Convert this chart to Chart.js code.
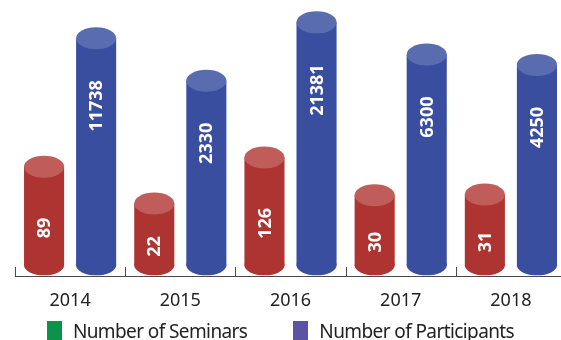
<!DOCTYPE html>
<html>
<head>
<meta charset="utf-8">
<script src="https://cdn.jsdelivr.net/npm/chart.js@4.4.1/dist/chart.umd.min.js"></script>
<style>
  html, body { margin: 0; padding: 0; background: #fff; }
  #wrap { position: relative; width: 561px; height: 340px; overflow: hidden; }
  #chart { position: absolute; left: 0; top: 0; }
  #legend {
    position: absolute; left: 0; top: 321px; width: 561px;
    display: flex; justify-content: center; gap: 46px;
    font-family: 'Noto Sans', sans-serif;
    font-size: 19px; letter-spacing: -0.6px; color: #222;
  }
  #legend .item { display: flex; align-items: flex-start; }
  #legend .box { width: 15px; height: 20px; margin-right: 11px; }
  #legend .txt { line-height: 20px; }
</style>
</head>
<body>
<div id="wrap">
  <canvas id="chart" width="566" height="340"></canvas>
  <div id="legend"></div>
</div>
<script>
const years = ['2014', '2015', '2016', '2017', '2018'];
const seminars = [89, 22, 126, 30, 31];
const participants = [11738, 2330, 21381, 6300, 4250];

const seriesNames = ['Number of Seminars', 'Number of Participants'];
const bodyColors = ['#ae3432', '#3a4ea0'];
const topColors = ['#c05c59', '#5a6cb0'];
const legendColors = ['#0b9447', '#5c53a4'];

// cylinder caps, value labels and the small ticks on the axis
const cylinders = {
    id: 'cylinders',
    beforeDatasetsDraw(chart) {
        const ctx = chart.ctx;
        const xs = chart.scales.x;
        const step = xs.getPixelForValue(1) - xs.getPixelForValue(0);
        ctx.save();
        ctx.strokeStyle = '#4a4a4a';
        ctx.lineWidth = 1;
        for (let i = 0; i <= years.length; i++) {
            const px = Math.round(xs.getPixelForValue(i) - step / 2) + 0.5;
            ctx.beginPath();
            ctx.moveTo(px, xs.top - 9);
            ctx.lineTo(px, xs.top);
            ctx.stroke();
        }
        ctx.restore();
    },
    afterDatasetsDraw(chart) {
        const ctx = chart.ctx;
        chart.data.datasets.forEach((ds, i) => {
            const meta = chart.getDatasetMeta(i);
            meta.data.forEach((bar, j) => {
                const { x, y, base, width } = bar.getProps(['x', 'y', 'base', 'width'], true);
                const rx = width / 2;
                ctx.save();
                ctx.fillStyle = bodyColors[i];
                ctx.beginPath();
                ctx.ellipse(x, base, rx, 10, 0, 0, Math.PI * 2);
                ctx.fill();
                ctx.fillStyle = topColors[i];
                ctx.beginPath();
                ctx.ellipse(x, y, rx, 11, 0, 0, Math.PI * 2);
                ctx.fill();

                // value, written upwards inside the bar
                const txt = String(ds.data[j]);
                ctx.font = "700 18px 'Open Sans', sans-serif";
                const w = ctx.measureText(txt).width;
                const cy = i === 0 ? (y + base) / 2 + 12 : y + 42 + w / 2;
                ctx.translate(x, cy);
                ctx.rotate(-Math.PI / 2);
                ctx.fillStyle = '#fff';
                ctx.textAlign = 'center';
                ctx.textBaseline = 'middle';
                ctx.fillText(txt, 0, 1);
                ctx.restore();
            });
        });
    }
};

const chart = new Chart(document.getElementById('chart'), {
    type: 'bar',
    data: {
        labels: years,
        datasets: [
            { label: seriesNames[0], data: seminars, backgroundColor: bodyColors[0], base: 2.1 },
            { label: seriesNames[1], data: participants, backgroundColor: bodyColors[1], base: 2.1 }
        ]
    },
    options: {
        responsive: false,
        animation: false,
        devicePixelRatio: 1,
        categoryPercentage: 0.945,
        barPercentage: 0.77,
        layout: { padding: { left: 15, right: 0, top: 0, bottom: 14.4 } },
        plugins: {
            legend: { display: false },
            tooltip: { enabled: false }
        },
        scales: {
            x: {
                grid: { display: false, drawTicks: false },
                border: { display: true, color: '#4a4a4a', width: 1 },
                ticks: {
                    color: '#222',
                    padding: 14,
                    font: { family: "'Noto Sans', sans-serif", size: 18 }
                }
            },
            y: {
                type: 'logarithmic',
                display: false,
                min: 1.4,
                max: 50000
            }
        }
    },
    plugins: [cylinders]
});

// legend under the axis
const legendEl = document.getElementById('legend');
chart.data.datasets.forEach((ds, i) => {
    const item = document.createElement('div');
    item.className = 'item';
    const box = document.createElement('span');
    box.className = 'box';
    box.style.background = legendColors[i];
    const txt = document.createElement('span');
    txt.className = 'txt';
    txt.textContent = ds.label;
    item.appendChild(box);
    item.appendChild(txt);
    legendEl.appendChild(item);
});
</script>
</body>
</html>
